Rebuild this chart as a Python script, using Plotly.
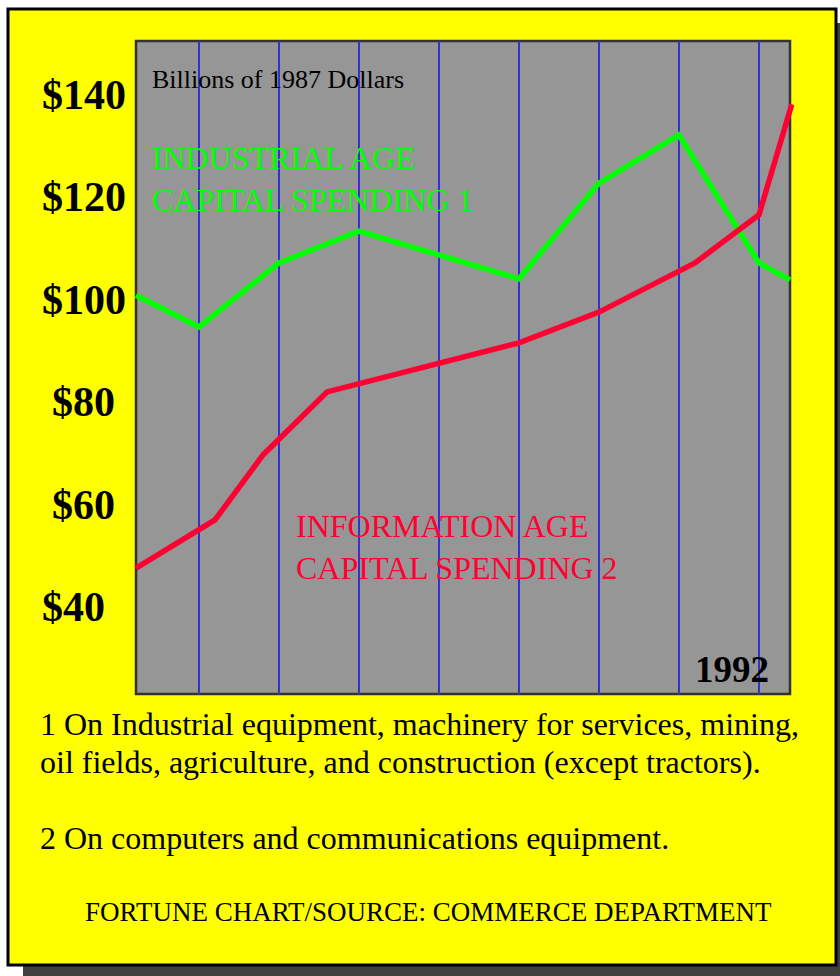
import plotly.graph_objects as go

# Capital spending, billions of 1987 dollars
years_industrial = [1984.2125, 1985, 1986, 1987, 1989, 1990, 1991, 1992, 1992.3875]
industrial = [100.9, 94.7, 107.2, 113.4, 104.1, 122.8, 132.2, 107.2, 103.9]

years_information = [1984.2125, 1985.2, 1985.8, 1986.6, 1989, 1990, 1991.2, 1992, 1992.41]
information = [47.6, 57.0, 69.7, 82.0, 91.6, 97.6, 107.2, 116.6, 138.2]

grid_years = [1985, 1986, 1987, 1988, 1989, 1990, 1991, 1992]
y_ticks = [140, 120, 100, 80, 60, 40]
y_tick_text = ["$140", "$120", "$100", "$80", "$60", "$40"]

W, H = 840, 976
L, R, T, B = 132, 46, 41, 282
PW, PH = W - L - R, H - T - B

SERIF = "Liberation Serif, Times New Roman, serif"
YELLOW = "#ffff00"
GRAY = "#969696"
GREEN = "#00ff00"
RED = "#ff0033"
BLUE = "#3333cc"


def px(x):
    return (x - L) / PW


def py(y):
    return (H - B - y) / PH


fig = go.Figure()

fig.add_trace(go.Scatter(
    x=years_industrial, y=industrial, mode="lines",
    line=dict(color=GREEN, width=5.5), hoverinfo="skip", showlegend=False,
))
fig.add_trace(go.Scatter(
    x=years_information, y=information, mode="lines",
    line=dict(color=RED, width=5.5), hoverinfo="skip", showlegend=False,
))

shapes = [
    # drop shadow behind the panel
    dict(type="rect", xref="paper", yref="paper", layer="below",
         x0=px(23), x1=px(860), y0=py(23), y1=py(990),
         fillcolor="#404040", line=dict(width=0)),
    # yellow panel
    dict(type="rect", xref="paper", yref="paper", layer="below",
         x0=px(8), x1=px(836), y0=py(9), y1=py(965),
         fillcolor=YELLOW, line=dict(color="black", width=3)),
    # gray plotting field
    dict(type="rect", xref="x", yref="paper", layer="below",
         x0=years_industrial[0], x1=years_industrial[-1], y0=0, y1=1,
         fillcolor=GRAY, line=dict(width=0)),
    # plotting field frame
    dict(type="rect", xref="x", yref="paper", layer="between",
         x0=years_industrial[0], x1=years_industrial[-1], y0=0, y1=1,
         fillcolor="rgba(0,0,0,0)", line=dict(color="#333333", width=2.5)),
]

annotations = []
tick_left = {140: 40, 120: 40, 100: 40, 80: 50, 60: 50, 40: 40}
for v, t in zip(y_ticks, y_tick_text):
    annotations.append(dict(
        x=px(tick_left[v]), xref="paper", y=v, yref="y",
        text=t, showarrow=False, xanchor="left", yanchor="middle",
        font=dict(family=SERIF, size=42, color="black", weight="bold"),
    ))

annotations += [
    dict(x=px(150), xref="paper", y=py(80), yref="paper",
         text="Billions of 1987 Dollars", showarrow=False,
         xanchor="left", yanchor="middle",
         font=dict(family=SERIF, size=26, color="black")),
    dict(x=px(150), xref="paper", y=py(179), yref="paper",
         text="INDUSTRIAL AGE<br>CAPITAL SPENDING 1", showarrow=False,
         xanchor="left", yanchor="middle", align="left",
         font=dict(family=SERIF, size=32, color=GREEN)),
    dict(x=px(294), xref="paper", y=py(547), yref="paper",
         text="INFORMATION AGE<br>CAPITAL SPENDING 2", showarrow=False,
         xanchor="left", yanchor="middle", align="left",
         font=dict(family=SERIF, size=32, color=RED)),
    dict(x=px(732), xref="paper", y=py(669), yref="paper",
         text="1992", showarrow=False, xanchor="center", yanchor="middle",
         font=dict(family=SERIF, size=37, color="black", weight="bold")),
]

footnotes = [
    (724, "1 On Industrial equipment, machinery for services, mining,"),
    (762, "oil fields, agriculture, and construction (except tractors)."),
    (838, "2 On computers and communications equipment."),
]
for yy, t in footnotes:
    annotations.append(dict(
        x=px(38), xref="paper", y=py(yy), yref="paper", text=t,
        showarrow=False, xanchor="left", yanchor="middle",
        font=dict(family=SERIF, size=32, color="black"),
    ))
annotations.append(dict(
    x=px(428), xref="paper", y=py(912), yref="paper",
    text="FORTUNE CHART/SOURCE: COMMERCE DEPARTMENT", showarrow=False,
    xanchor="center", yanchor="middle",
    font=dict(family=SERIF, size=27, color="black"),
))

fig.update_layout(
    width=W, height=H,
    margin=dict(l=L, r=R, t=T, b=B),
    paper_bgcolor="white",
    plot_bgcolor="rgba(0,0,0,0)",
    shapes=shapes,
    annotations=annotations,
    xaxis=dict(
        range=[1984.1625, 1992.4375], tickvals=grid_years,
        showgrid=True, gridcolor=BLUE, gridwidth=2,
        showticklabels=False, ticks="", zeroline=False, showline=False,
        fixedrange=True,
    ),
    yaxis=dict(
        range=[23.0, 150.55], showgrid=False, showticklabels=False,
        ticks="", zeroline=False, showline=False, fixedrange=True,
    ),
)

fig.write_html("out.html", config={"displayModeBar": False})
